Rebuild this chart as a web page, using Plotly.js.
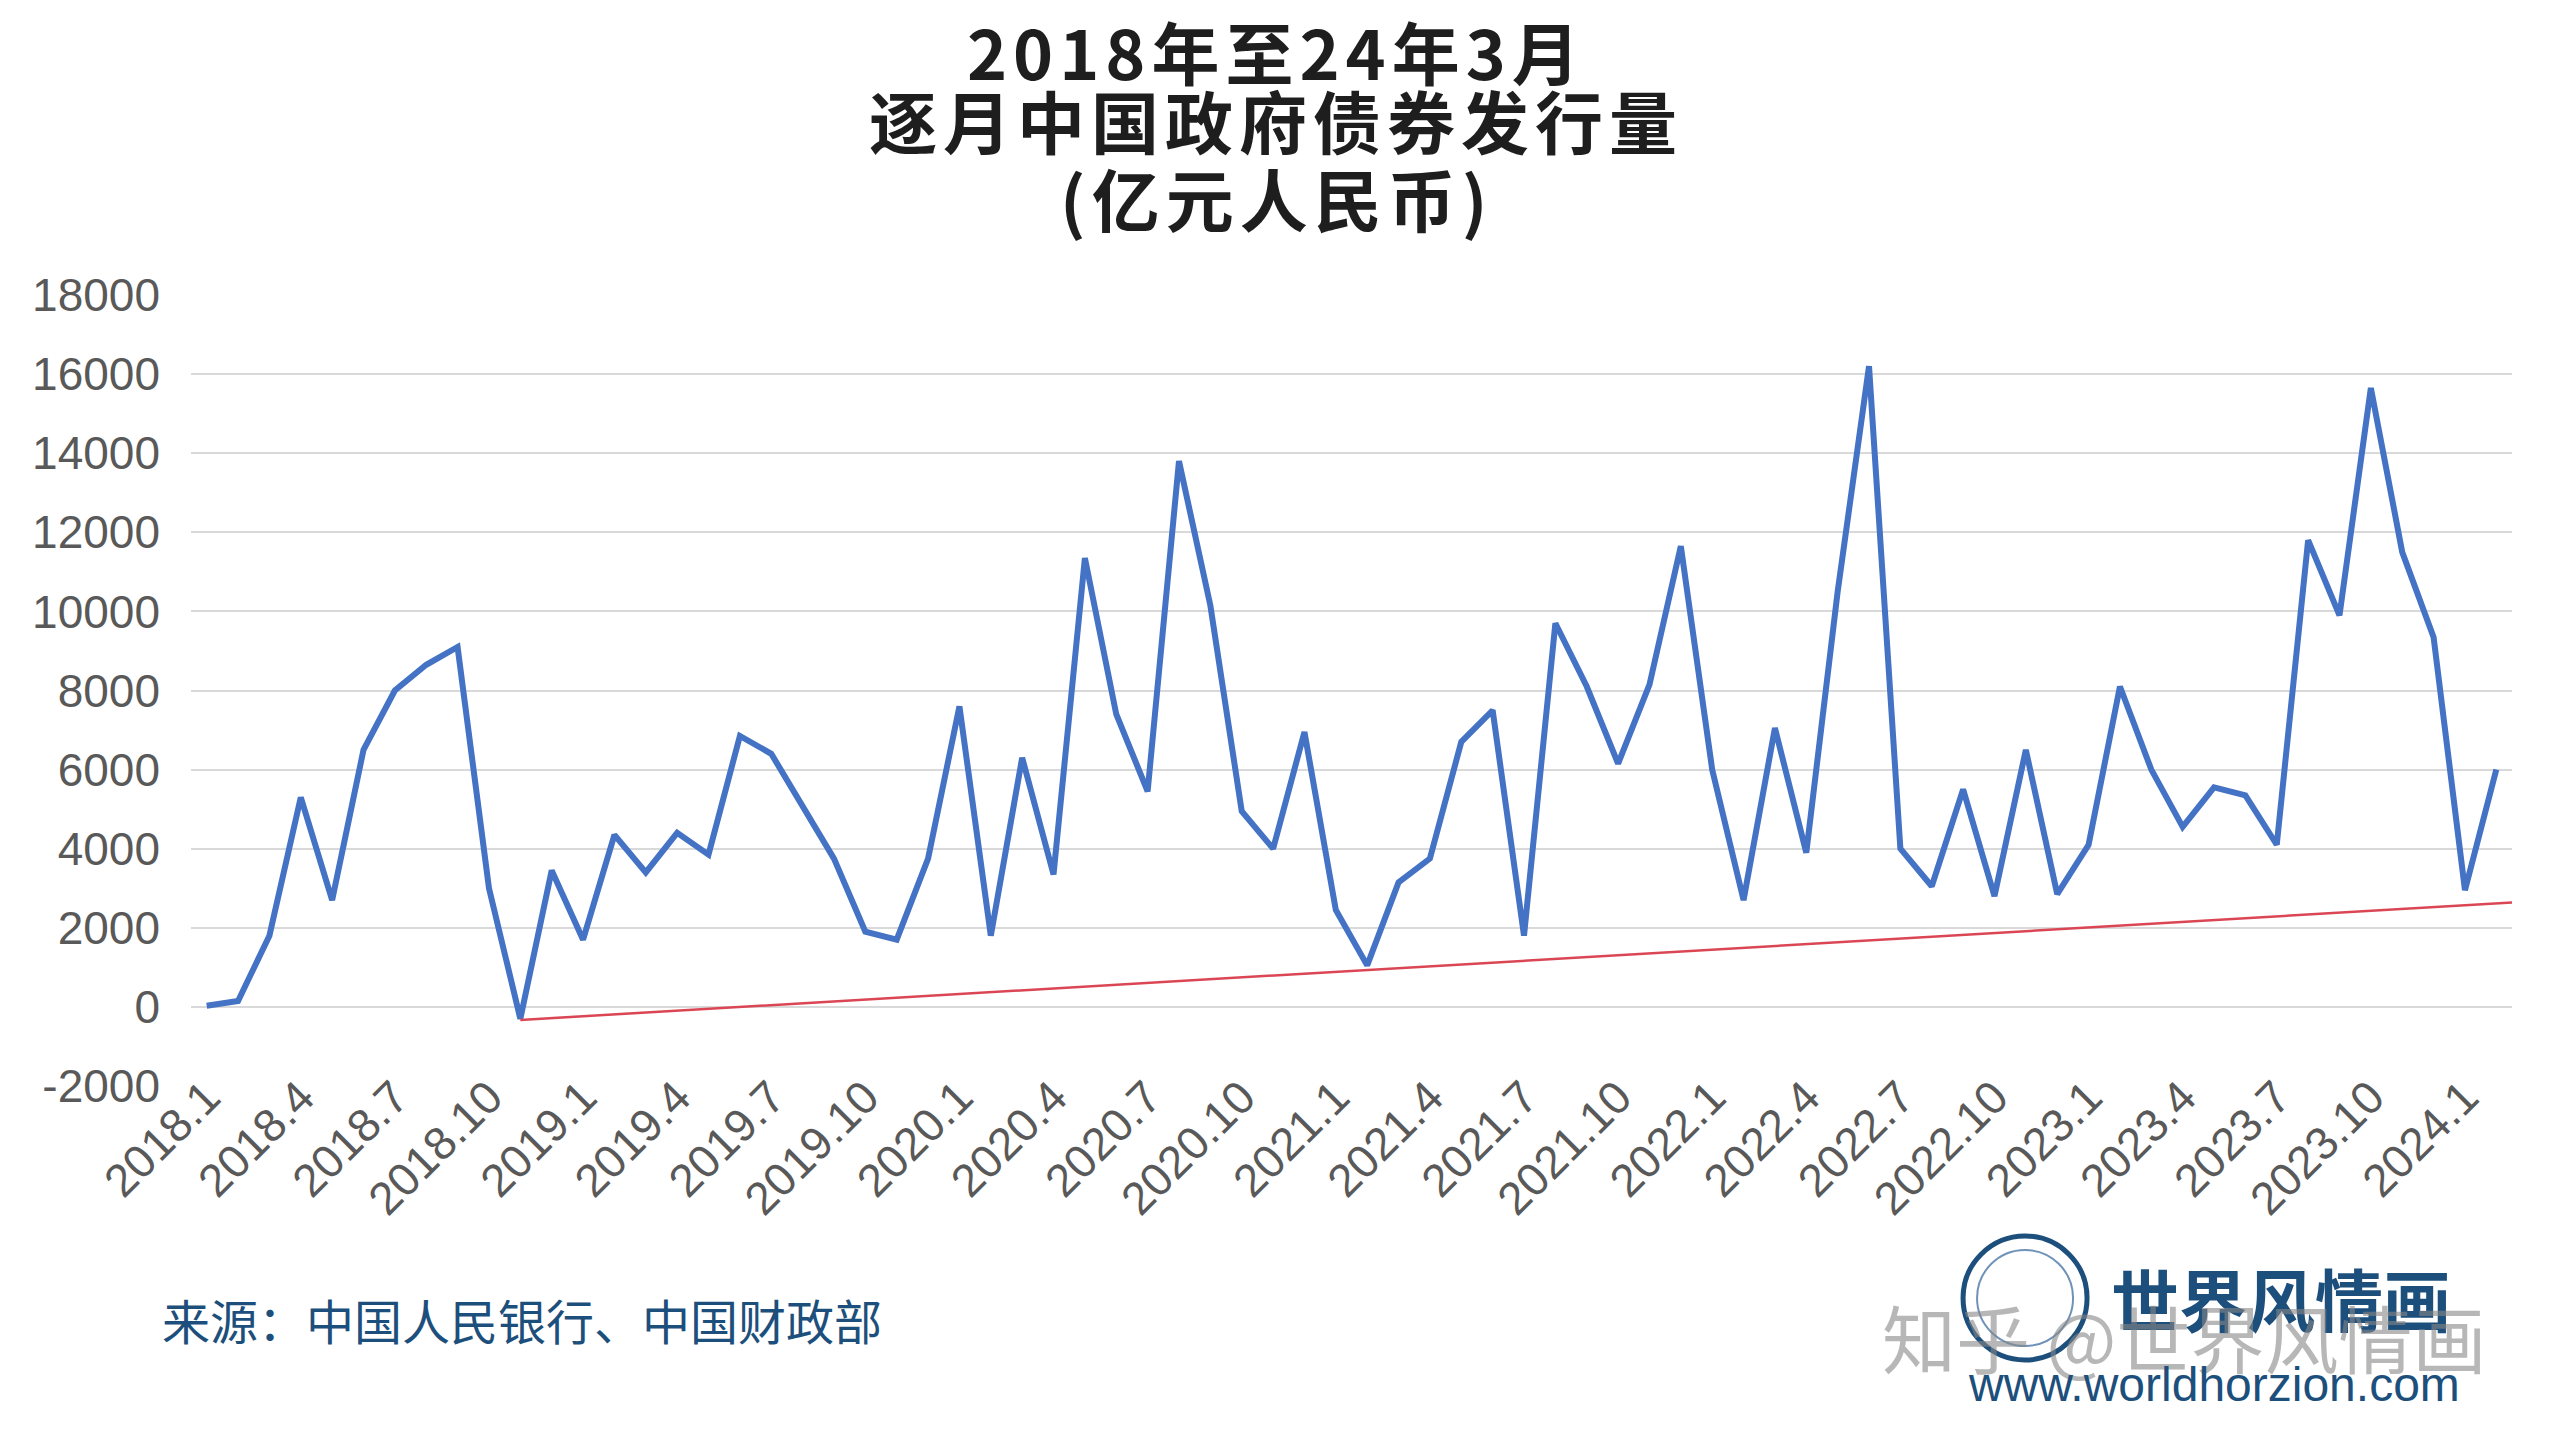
<!DOCTYPE html>
<html>
<head>
<meta charset="utf-8">
<script src="https://cdn.plot.ly/plotly-3.0.1.min.js"></script>
<style>
  html, body { margin: 0; padding: 0; background: #fff; }
  #chart { width: 2560px; height: 1440px; }
  /* the title lines are spaced out a little in the original */
  g.annotation[data-index="0"] text,
  g.annotation[data-index="1"] text,
  g.annotation[data-index="2"] text { letter-spacing: 6px; }
</style>
</head>
<body>
<div id="chart"></div>
<script>
// monthly government bond issuance, 100 million RMB
let months = [
  '2018.1', '2018.2', '2018.3', '2018.4', '2018.5', '2018.6', '2018.7', '2018.8', '2018.9', '2018.10', '2018.11', '2018.12',
  '2019.1', '2019.2', '2019.3', '2019.4', '2019.5', '2019.6', '2019.7', '2019.8', '2019.9', '2019.10', '2019.11', '2019.12',
  '2020.1', '2020.2', '2020.3', '2020.4', '2020.5', '2020.6', '2020.7', '2020.8', '2020.9', '2020.10', '2020.11', '2020.12',
  '2021.1', '2021.2', '2021.3', '2021.4', '2021.5', '2021.6', '2021.7', '2021.8', '2021.9', '2021.10', '2021.11', '2021.12',
  '2022.1', '2022.2', '2022.3', '2022.4', '2022.5', '2022.6', '2022.7', '2022.8', '2022.9', '2022.10', '2022.11', '2022.12',
  '2023.1', '2023.2', '2023.3', '2023.4', '2023.5', '2023.6', '2023.7', '2023.8', '2023.9', '2023.10', '2023.11', '2023.12',
  '2024.1', '2024.2'
];

let issuance = [
  30, 150, 1800, 5300, 2700, 6500, 8000, 8650, 9100, 3000, -300, 3450,
  1700, 4350, 3400, 4400, 3850, 6850, 6400, 5050, 3750, 1900, 1700, 3750,
  7600, 1800, 6300, 3350, 11350, 7400, 5450, 13800, 10150, 4950, 4000, 6950,
  2450, 1050, 3150, 3750, 6700, 7500, 1800, 9700, 8100, 6150, 8150, 11650,
  6000, 2700, 7050, 3900, 10500, 16200, 4000, 3050, 5500, 2800, 6500, 2850,
  4100, 8100, 6000, 4550, 5550, 5350, 4100, 11800, 9900, 15650, 11500, 9350,
  2950, 6000
];

// red support line, from the 2018.11 low to the right edge (month index, value)
let trendX = [10, 73.5];
let trendY = [-330, 2640];

let yTickVals = [-2000, 0, 2000, 4000, 6000, 8000, 10000, 12000, 14000, 16000, 18000];
let yTickText = ['-2000', '0', '2000', '4000', '6000', '8000', '10000', '12000', '14000', '16000', '18000'];

let titleLines = ['2018年至24年3月', '逐月中国政府债券发行量', '(亿元人民币)'];
let sourceText = '来源：中国人民银行、中国财政部';

let idx = months.map((_, i) => i);
let tickIdx = idx.filter((i) => i % 3 === 0);
let tickText = tickIdx.map((i) => months[i]);

let issueTrace = {
  x: idx,
  y: issuance,
  text: months,
  type: 'scatter',
  mode: 'lines',
  line: { color: '#4472c4', width: 6 },
  hoverinfo: 'text+y',
};

let trendTrace = {
  x: trendX,
  y: trendY,
  type: 'scatter',
  mode: 'lines',
  line: { color: '#db4655', width: 2.5 },
  hoverinfo: 'skip',
};

let cjk = 'Noto Sans CJK SC, sans-serif';
let navy = '#1d4f7c';

let titleY = [1.3097, 1.2225, 1.1233];
let annotations = titleLines.map((t, i) => ({
  text: t,
  xref: 'paper', yref: 'paper',
  x: 0.4675, y: titleY[i],
  xanchor: 'center', yanchor: 'middle',
  showarrow: false,
  font: { family: cjk, size: 68, weight: 'bold', color: '#1e1e1e' },
}));

annotations.push(
  {
    text: sourceText,
    xref: 'paper', yref: 'paper', x: -0.0134, y: -0.2946,
    xanchor: 'left', yanchor: 'middle', showarrow: false,
    font: { family: cjk, size: 48, color: navy },
  },
  {
    text: '世界风情画',
    xref: 'paper', yref: 'paper', x: 0.9005, y: -0.268,
    xanchor: 'center', yanchor: 'middle', showarrow: false,
    font: { family: cjk, size: 68, weight: 'bold', color: navy },
  },
  {
    text: '知乎 @世界风情画',
    xref: 'paper', yref: 'paper', x: 0.859, y: -0.316,
    xanchor: 'center', yanchor: 'middle', showarrow: false,
    font: { family: cjk, size: 74, color: 'rgba(135,135,135,0.6)' },
  },
  {
    text: 'www.worldhorzion.com',
    xref: 'paper', yref: 'paper', x: 0.8716, y: -0.378,
    xanchor: 'center', yanchor: 'middle', showarrow: false,
    font: { family: 'Liberation Sans Narrow, Liberation Sans, sans-serif', size: 48, color: navy },
  }
);

// little globe badge of the logo
let shapes = [
  {
    type: 'circle', xref: 'paper', yref: 'paper',
    xsizemode: 'pixel', ysizemode: 'pixel', xanchor: 0.7902, yanchor: -0.268,
    x0: -62, x1: 62, y0: -62, y1: 62,
    line: { color: navy, width: 5 },
  },
  {
    type: 'circle', xref: 'paper', yref: 'paper',
    xsizemode: 'pixel', ysizemode: 'pixel', xanchor: 0.7902, yanchor: -0.268,
    x0: -48, x1: 48, y0: -48, y1: 48,
    line: { color: '#6f93b8', width: 2 },
  },
];

let layout = {
  width: 2560,
  height: 1440,
  margin: { l: 191, r: 48, t: 295, b: 354 },
  paper_bgcolor: '#ffffff',
  plot_bgcolor: '#ffffff',
  showlegend: false,
  font: { family: 'Liberation Sans, Arial, sans-serif', color: '#595959' },
  xaxis: {
    range: [-0.5, 73.5],
    tickmode: 'array',
    tickvals: tickIdx,
    ticktext: tickText,
    tickangle: -45,
    showgrid: false,
    zeroline: false,
    showline: false,
    ticks: '',
    ticklabelstandoff: -26,
    tickfont: { size: 46, color: '#595959' },
  },
  yaxis: {
    range: [-2000, 18000],
    tickmode: 'array',
    tickvals: yTickVals,
    ticktext: yTickText,
    gridcolor: '#d9d9d9',
    gridwidth: 2,
    zeroline: false,
    showline: false,
    ticks: '',
    ticklabelstandoff: 30,
    tickfont: { size: 46, color: '#595959' },
  },
  annotations: annotations,
  shapes: shapes,
};

Plotly.newPlot('chart', [issueTrace, trendTrace], layout, { displayModeBar: false });
</script>
</body>
</html>
